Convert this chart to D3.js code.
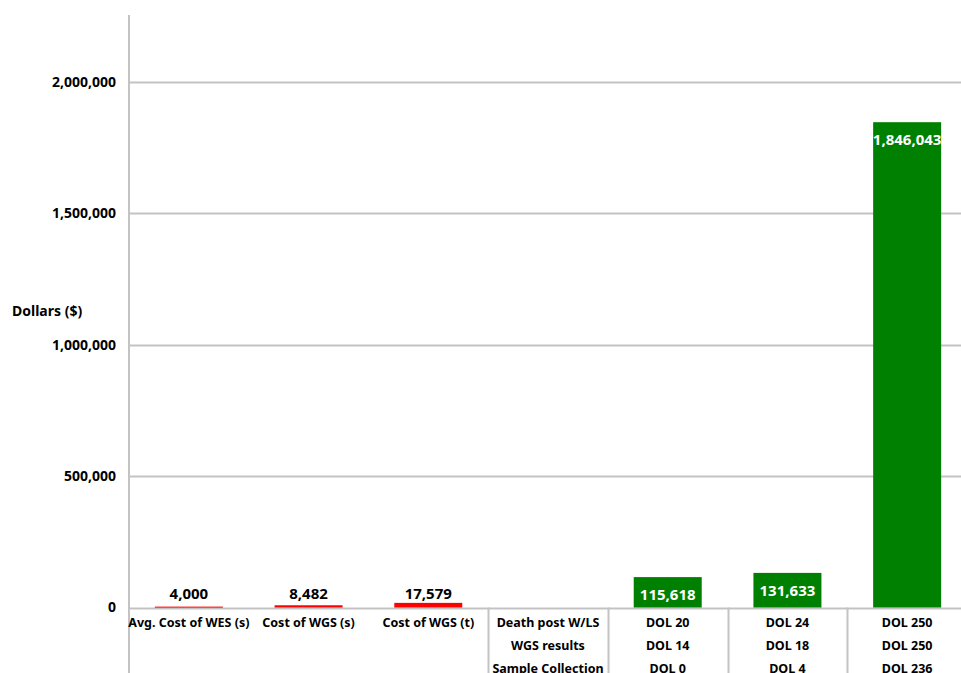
<!DOCTYPE html>
<html>
<head>
<meta charset="utf-8">
<script src="https://cdn.jsdelivr.net/npm/d3@7"></script>
<style>
  body { margin: 0; background: #fff; }
  svg { display: block; font-family: "Noto Sans", "Open Sans", sans-serif; font-weight: bold; }
</style>
</head>
<body>
<div id="chart"></div>
<script>
// data
let categories = ["Avg. Cost of WES (s)", "Cost of WGS (s)", "Cost of WGS (t)", "header", "c5", "c6", "c7"];
let costs = [4000, 8482, 17579, null, 115618, 131633, 1846043];
let barColors = ["#ff0000", "#ff0000", "#ff0000", null, "#008000", "#008000", "#008000"];
let rowHeaders = ["Death post W/LS", "WGS results", "Sample Collection"];
let deathDol = ["DOL 20", "DOL 24", "DOL 250"];
let wgsDol = ["DOL 14", "DOL 18", "DOL 250"];
let sampleDol = ["DOL 0", "DOL 4", "DOL 236"];
let yTicks = [0, 500000, 1000000, 1500000, 2000000];

let width = 961, height = 673;
let margin = {top: 16, left: 129, bottom: 65};

let svg = d3.select("#chart").append("svg")
    .attr("width", width)
    .attr("height", height);

let x = d3.scaleBand()
    .domain(categories)
    .range([margin.left, 967])
    .paddingInner(0)
    .paddingOuter(0);
let y = d3.scaleLinear()
    .domain([0, 2250000])
    .range([height - margin.bottom - 0.5, margin.top]);

let barW = 68;
let fmt = d3.format(",");

// gridlines
svg.append("g")
    .selectAll("line")
    .data(yTicks)
    .enter().append("line")
    .attr("x1", margin.left)
    .attr("x2", width)
    .attr("y1", function(d) { return Math.round(y(d)) + 0.5; })
    .attr("y2", function(d) { return Math.round(y(d)) + 0.5; })
    .attr("stroke", "#c3c3c3")
    .attr("stroke-width", 2);

// y axis line
svg.append("line")
    .attr("x1", margin.left).attr("x2", margin.left)
    .attr("y1", 15).attr("y2", height)
    .attr("stroke", "#c3c3c3")
    .attr("stroke-width", 2);

// tick labels
svg.append("g")
    .attr("font-size", "14px")
    .attr("text-anchor", "end")
    .selectAll("text")
    .data(yTicks)
    .enter().append("text")
    .attr("x", 116)
    .attr("y", function(d) { return y(d); })
    .attr("dy", "0.35em")
    .text(function(d) { return fmt(d); });

svg.append("text")
    .attr("x", 12)
    .attr("y", 311)
    .attr("dy", "0.35em")
    .attr("font-size", "14px")
    .text("Dollars ($)");

// separators in the label table
let sepCats = ["header", "c5", "c6", "c7"];
svg.append("g")
    .selectAll("line")
    .data(sepCats)
    .enter().append("line")
    .attr("x1", function(d) { return Math.round(x(d)) + 0.5; })
    .attr("x2", function(d) { return Math.round(x(d)) + 0.5; })
    .attr("y1", y(0))
    .attr("y2", height)
    .attr("stroke", "#c3c3c3")
    .attr("stroke-width", 2);

// bars
let barData = categories.map(function(c, i) { return {cat: c, v: costs[i], color: barColors[i]}; })
    .filter(function(d) { return d.v !== null; });

svg.append("g")
    .selectAll("rect")
    .data(barData)
    .enter().append("rect")
    .attr("x", function(d) { return x(d.cat) + x.bandwidth() / 2 - barW / 2; })
    .attr("width", barW)
    .attr("y", function(d) { return y(d.v); })
    .attr("height", function(d) { return Math.max(y(0) - y(d.v), 1.5); })
    .attr("fill", function(d) { return d.color; })
    .attr("opacity", function(d, i) { return i === 0 ? 0.7 : 1; });

// value labels: black above the small red bars, white inside the green ones
svg.append("g")
    .attr("font-size", "15px")
    .attr("text-anchor", "middle")
    .selectAll("text")
    .data(barData)
    .enter().append("text")
    .attr("x", function(d) { return x(d.cat) + x.bandwidth() / 2; })
    .attr("y", function(d) { return d.color === "#ff0000" ? y(0) - 9 : y(d.v) + 23; })
    .attr("fill", function(d) { return d.color === "#ff0000" ? "#000" : "#fff"; })
    .text(function(d) { return fmt(d.v); });

// category labels under the first three bars
svg.append("g")
    .attr("font-size", "12.5px")
    .attr("text-anchor", "middle")
    .selectAll("text")
    .data(categories.slice(0, 3))
    .enter().append("text")
    .attr("x", function(d) { return x(d) + x.bandwidth() / 2; })
    .attr("y", 627)
    .text(function(d) { return d; });

// the DOL table
let rows = [
    [rowHeaders[0]].concat(deathDol),
    [rowHeaders[1]].concat(wgsDol),
    [rowHeaders[2]].concat(sampleDol)
];
rows.forEach(function(row, r) {
    svg.append("g")
        .attr("font-size", "12.5px")
        .attr("text-anchor", "middle")
        .selectAll("text")
        .data(row)
        .enter().append("text")
        .attr("x", function(d, i) { return x(sepCats[i]) + x.bandwidth() / 2; })
        .attr("y", 627 + r * 23)
        .text(function(d) { return d; });
});
</script>
</body>
</html>
